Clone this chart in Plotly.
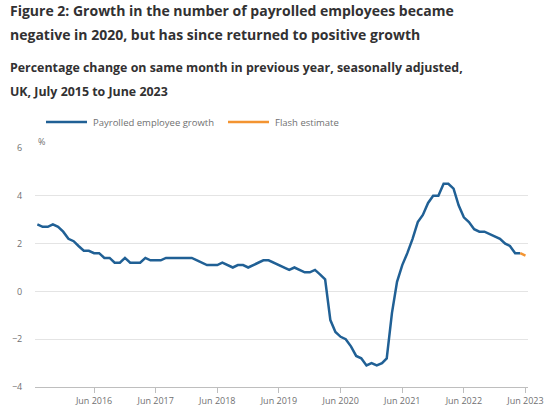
import plotly.graph_objects as go
import pandas as pd

# monthly year-on-year growth, July 2015 to June 2023
months = pd.date_range("2015-07-01", "2023-06-01", freq="MS")
growth = [
    2.8, 2.7, 2.7, 2.8, 2.7, 2.5, 2.2, 2.1, 1.9, 1.7, 1.7, 1.6,
    1.6, 1.4, 1.4, 1.2, 1.2, 1.4, 1.2, 1.2, 1.2, 1.4, 1.3, 1.3,
    1.3, 1.4, 1.4, 1.4, 1.4, 1.4, 1.4, 1.3, 1.2, 1.1, 1.1, 1.1,
    1.2, 1.1, 1.0, 1.1, 1.1, 1.0, 1.1, 1.2, 1.3, 1.3, 1.2, 1.1,
    1.0, 0.9, 1.0, 0.9, 0.8, 0.8, 0.9, 0.7, 0.5, -1.2, -1.7, -1.9,
    -2.0, -2.3, -2.7, -2.8, -3.1, -3.0, -3.1, -3.0, -2.8, -0.9, 0.4, 1.1,
    1.6, 2.2, 2.9, 3.2, 3.7, 4.0, 4.0, 4.5, 4.5, 4.3, 3.6, 3.1,
    2.9, 2.6, 2.5, 2.5, 2.4, 2.3, 2.2, 2.0, 1.9, 1.6, 1.6, 1.5,
]
# the last month is the flash estimate
n_flash = 1

series_names = ["Payrolled employee growth", "Flash estimate"]

tick_dates = pd.date_range("2016-06-01", "2023-06-01", freq="12MS")
tick_text = [d.strftime("Jun %Y") for d in tick_dates]

BLUE = "#206095"
ORANGE = "#f39431"
GREY = "#707071"
DARK = "#323132"

W, H = 550, 414
L, R, T, B = 35, 22, 148, 27


def py(ypx):
    # pixel row -> paper y
    return (H - B - ypx) / (H - T - B)


def px(xpx):
    return (xpx - L) / (W - L - R)


fig = go.Figure()
fig.add_trace(go.Scatter(
    x=months[:len(months) - n_flash], y=growth[:len(growth) - n_flash],
    mode="lines", name=series_names[0],
    line=dict(color=BLUE, width=2.5),
))
fig.add_trace(go.Scatter(
    x=months[-n_flash - 1:], y=growth[-n_flash - 1:],
    mode="lines", name=series_names[1],
    line=dict(color=ORANGE, width=2.5),
))

texts = [
    ("Figure 2: Growth in the number of payrolled employees became", 11, 14),
    ("negative in 2020, but has since returned to positive growth", 35, 14),
    ("Percentage change on same month in previous year, seasonally adjusted,", 67.5, 12.4),
    ("UK, July 2015 to June 2023", 91.5, 12.4),
]
for txt, ypix, size in texts:
    fig.add_annotation(
        text="<b>%s</b>" % txt, xref="paper", yref="paper",
        x=px(8), y=py(ypix), xanchor="left", yanchor="middle",
        showarrow=False, font=dict(size=size, color=DARK),
    )

# hand-drawn legend (longer key lines than plotly's own legend)
legend_items = [(series_names[0], BLUE, 46), (series_names[1], ORANGE, 228)]
for name, col, x0 in legend_items:
    fig.add_shape(
        type="line", xref="paper", yref="paper",
        x0=px(x0), x1=px(x0 + 41), y0=py(122), y1=py(122),
        line=dict(color=col, width=2.5),
    )
    fig.add_annotation(
        text=name, xref="paper", yref="paper", x=px(x0 + 45), y=py(122),
        xanchor="left", yanchor="middle", showarrow=False,
        font=dict(size=9.5, color=GREY),
    )

fig.add_annotation(
    text="%", xref="paper", yref="paper", x=px(36), y=py(141.5),
    xanchor="left", yanchor="middle", showarrow=False,
    font=dict(size=9, color=GREY),
)

fig.update_layout(
    width=W, height=H,
    margin=dict(l=L, r=R, t=T, b=B),
    paper_bgcolor="white", plot_bgcolor="white",
    font=dict(family="Open Sans", color=GREY),
    showlegend=False,
    xaxis=dict(
        range=["2015-06-17", "2023-06-16"],
        tickvals=tick_dates, ticktext=tick_text,
        showgrid=False, showline=True, linecolor="#bebebe", linewidth=1,
        ticks="outside", ticklen=5, tickcolor="#bebebe",
        tickfont=dict(size=9, color=GREY), zeroline=False,
        automargin=False,
    ),
    yaxis=dict(
        range=[-4, 6], tickvals=[-4, -2, 0, 2, 4, 6],
        showgrid=True, gridcolor="#e4e4e4", gridwidth=1,
        zeroline=False, showline=False,
        # invisible ticks just push the labels out to the left
        ticks="outside", ticklen=10, tickcolor="rgba(0,0,0,0)",
        automargin=False,
        tickfont=dict(size=9, color=GREY),
    ),
)

# drop the browser's default body margin so the figure sits at the page corner
fig.write_html(
    "out.html",
    config={"displayModeBar": False},
    post_script="document.body.style.margin='0px';",
)
